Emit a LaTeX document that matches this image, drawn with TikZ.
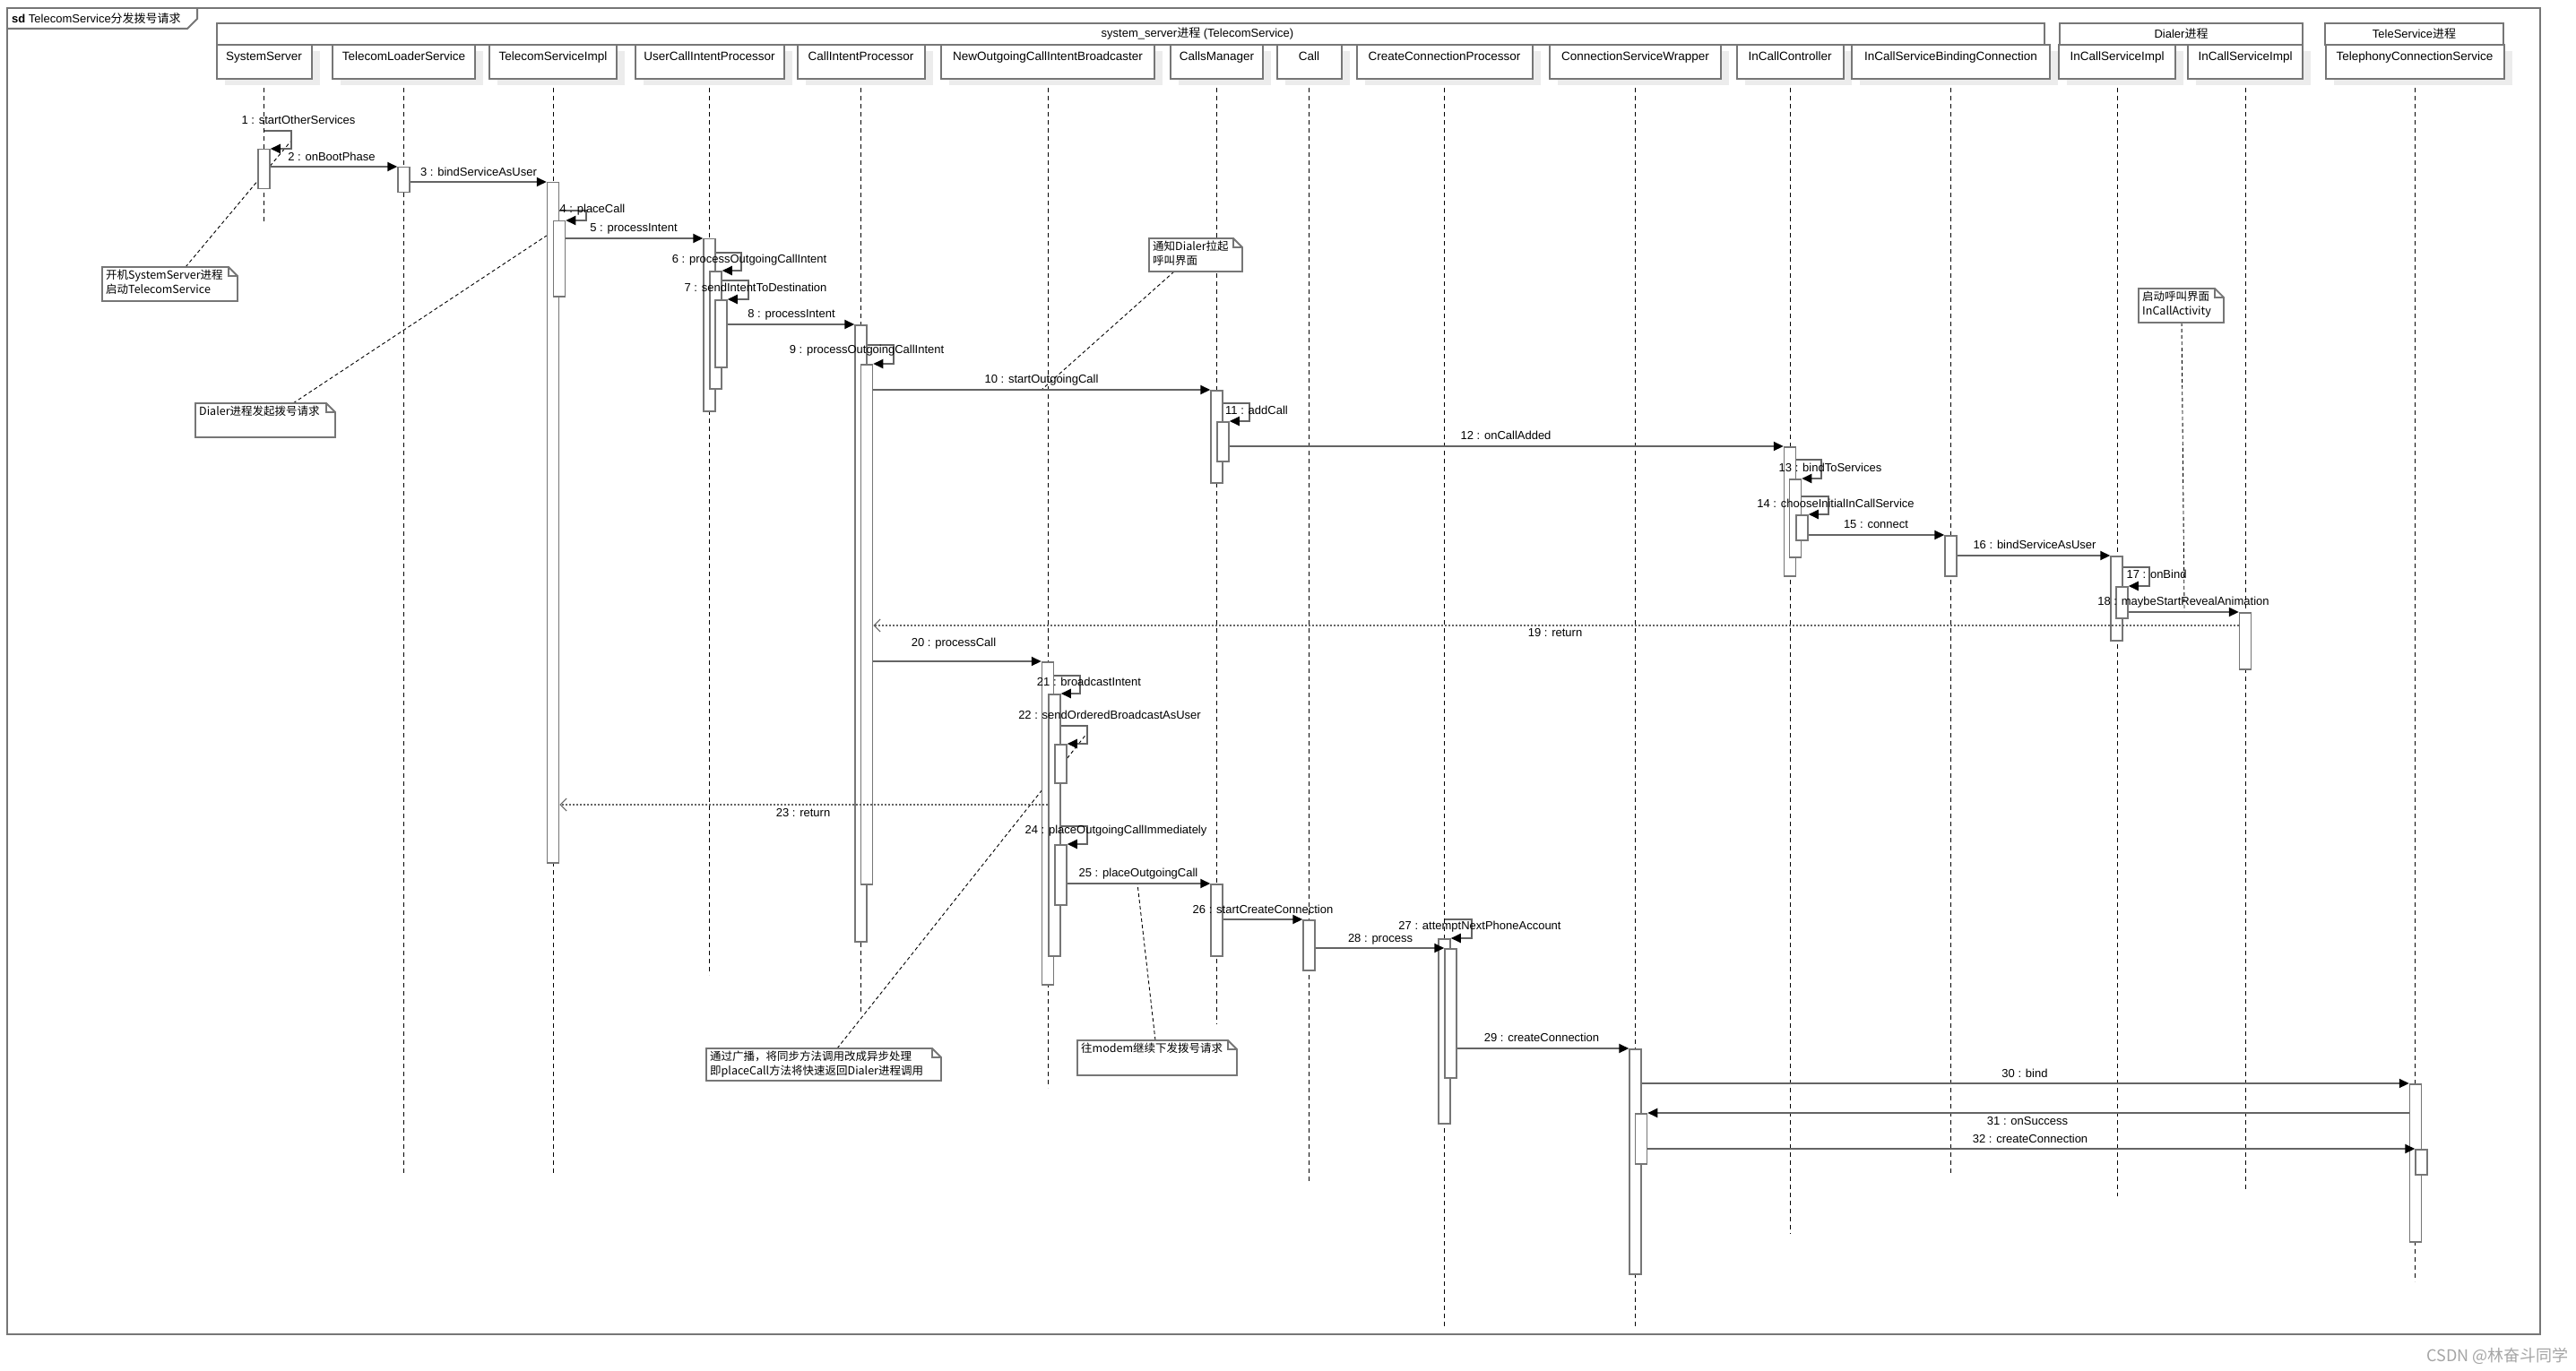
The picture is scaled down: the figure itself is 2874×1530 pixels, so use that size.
\documentclass[tikz,border=0pt]{standalone}
\usepackage{fontspec}
\setmainfont{Liberation Sans}
\newfontfamily\cjk{Noto Sans CJK SC}
\usetikzlibrary{arrows.meta,calc,shadows}
\pgfdeclarelayer{back}
\pgfdeclarelayer{bg}
\pgfsetlayers{back,bg,main}
\definecolor{bgray}{RGB}{118,118,118}
\definecolor{lgray}{RGB}{100,100,100}
\definecolor{shgray}{RGB}{236,236,236}
\definecolor{wmgray}{RGB}{165,165,165}
\newcommand{\umlnote}[6]{%
  \draw[noteline] (#2,#3) -- (#4-10,#3) -- (#4,#3+10) -- (#4,#5) -- (#2,#5) -- cycle;
  \draw[bgray, line width=1.2pt] (#4-10,#3) -- (#4-10,#3+10) -- (#4,#3+10);
  \coordinate (#1-top) at (#2,#3);
  \node[notetxt] (#1) at (#2+4,#3+3) {#6};
}
\begin{document}
\begin{tikzpicture}[x=1pt,y=-1pt,
  hdr/.style={draw=bgray, line width=2pt, fill=white, minimum height=38pt, inner sep=0pt,
    text height=10pt, text depth=13pt,
    font=\fontsize{13.5}{16}\selectfont, general shadow={fill=shgray, shadow xshift=9pt, shadow yshift=-7pt}},
  grp/.style={draw=bgray, line width=2pt, fill=white, minimum height=24pt, inner sep=0pt,
    font=\fontsize{13}{15}\selectfont},
  bar/.style={draw=bgray, line width=1.5pt, fill=white, minimum width=13pt, inner sep=0pt, anchor=north},
  lifeline/.style={draw=black, line width=0.9pt, dash pattern=on 5pt off 4pt},
  msg/.style={draw=lgray, line width=2pt, -{Triangle[length=11pt,width=10pt,color=black]}},
  ret/.style={draw=lgray, line width=1.6pt, dash pattern=on 2pt off 2pt,
    -{Straight Barb[length=7pt,width=14pt,line width=1.2pt]}},
  lbl/.style={font=\fontsize{13}{15}\selectfont, inner sep=0pt, text height=9.5pt, text depth=2.5pt},
  noteline/.style={draw=bgray, line width=1.8pt, fill=white},
  notetxt/.style={anchor=north west, align=left, inner sep=0pt, font=\cjk\fontsize{12.5}{15.5}\selectfont},
  conn/.style={draw=black, line width=0.9pt, dash pattern=on 4pt off 3pt}
]
\begin{pgfonlayer}{back}
\fill[white] (0,0) rectangle (2874,1530);
\end{pgfonlayer}
\useasboundingbox (0,0) rectangle (2874,1530);

% frame and tab
\draw[bgray, line width=2pt] (8,9) rectangle (2834,1489);
\draw[bgray, line width=2pt] (8,32) -- (209,32) -- (220,21) -- (220,9);
\node[anchor=west, inner sep=0pt, font=\fontsize{13}{15}\selectfont] (title) at (13,21)
  {\textbf{sd} TelecomService{\cjk 分发拨号请求}};

% group boxes
\node[grp, minimum width=2039pt] (g1) at (1261.5,38) {};
\node[lbl, font=\fontsize{13}{15}\selectfont] (g1t) at (1336,38) {system\_server{\cjk 进程} (TelecomService)};
\node[grp, minimum width=271pt] (g2) at (2433.5,38) {Dialer{\cjk 进程}};
\node[grp, minimum width=199pt] (g3) at (2693.5,38) {TeleService{\cjk 进程}};

% headers
\node[hdr, minimum width=106pt] (h1) at (294.5,69) {SystemServer};
\node[hdr, minimum width=159pt] (h2) at (450.5,69) {TelecomLoaderService};
\node[hdr, minimum width=142pt] (h3) at (617,69) {TelecomServiceImpl};
\node[hdr, minimum width=166pt] (h4) at (791.5,69) {UserCallIntentProcessor};
\node[hdr, minimum width=142pt] (h5) at (960.5,69) {CallIntentProcessor};
\node[hdr, minimum width=238pt] (h6) at (1169,69) {NewOutgoingCallIntentBroadcaster};
\node[hdr, minimum width=103pt] (h7) at (1357.5,69) {CallsManager};
\node[hdr, minimum width=72pt] (h8) at (1460.5,69) {Call};
\node[hdr, minimum width=196pt] (h9) at (1611.5,69) {CreateConnectionProcessor};
\node[hdr, minimum width=191pt] (h10) at (1824.5,69) {ConnectionServiceWrapper};
\node[hdr, minimum width=119pt] (h11) at (1997,69) {InCallController};
\node[hdr, minimum width=221pt] (h12) at (2176.5,69) {InCallServiceBindingConnection};
\node[hdr, minimum width=130pt] (h13) at (2362,69) {InCallServiceImpl};
\node[hdr, minimum width=128pt] (h14) at (2505,69) {InCallServiceImpl};
\node[hdr, minimum width=199pt] (h15) at (2694,69) {TelephonyConnectionService};

% lifelines
\begin{pgfonlayer}{bg}
\foreach \h/\e in {h1/250, h2/1311, h3/1311, h4/1088, h5/1131, h6/1214, h7/1143, h8/1320,
  h9/1481, h10/1483, h11/1377, h12/1311, h13/1335, h14/1330, h15/1430}
  \draw[lifeline] (\h.south) -- (\h.south |- 0,\e);
\end{pgfonlayer}

% activation bars
\node[bar, minimum height=44pt] (b1) at (294.5,166) {};
\node[bar, minimum height=28pt] (b2) at (450.5,186) {};
\node[bar, minimum height=759pt] (b3) at (617,203) {};
\node[bar, minimum height=84pt] (b3n) at (624,246) {};
\node[bar, minimum height=192pt] (b4) at (791.5,266) {};
\node[bar, minimum height=131pt] (b4n) at (798.5,302) {};
\node[bar, minimum height=75pt] (b4nn) at (804.5,334) {};
\node[bar, minimum height=688pt] (b5) at (960.5,362) {};
\node[bar, minimum height=580pt] (b5n) at (967,406) {};
\node[bar, minimum height=103pt] (b7) at (1357.5,435) {};
\node[bar, minimum height=44pt] (b7n) at (1364.5,470) {};
\node[bar, minimum height=144pt] (b11) at (1997,498) {};
\node[bar, minimum height=87pt] (b11n) at (2003,534) {};
\node[bar, minimum height=28pt] (b11nn) at (2010.5,574) {};
\node[bar, minimum height=45pt] (b12) at (2176.5,597) {};
\node[bar, minimum height=94pt] (b13) at (2361.5,620) {};
\node[bar, minimum height=35pt] (b13n) at (2367.5,654) {};
\node[bar, minimum height=63pt] (b14) at (2505,683) {};
\node[bar, minimum height=360pt] (b6) at (1169,738) {};
\node[bar, minimum height=292pt] (b6n) at (1176.5,774) {};
\node[bar, minimum height=43pt] (b6a) at (1183.5,830) {};
\node[bar, minimum height=67pt] (b6b) at (1183.5,942) {};
\node[bar, minimum height=80pt] (b7b) at (1357.5,986) {};
\node[bar, minimum height=56pt] (b8) at (1460.5,1026) {};
\node[bar, minimum height=206pt] (b9) at (1611.5,1047) {};
\node[bar, minimum height=144pt] (b9n) at (1618.5,1058) {};
\node[bar, minimum height=251pt] (b10) at (1824.5,1170) {};
\node[bar, minimum height=56pt] (b10n) at (1831,1242) {};
\node[bar, minimum height=176pt] (b15) at (2695,1209) {};
\node[bar, minimum height=28pt] (b15n) at (2701.5,1282) {};

% messages
\draw[msg] (b1 |- 0,146) -- (325,146) -- (325,166) -- (b1.east |- 0,166);
\draw[msg] (b1.east |- 0,186) -- (b2.west |- 0,186);
\draw[msg] (b2.east |- 0,203) -- (b3.west |- 0,203);
\draw[msg] (b3.east |- 0,235) -- (654,235) -- (654,246) -- (b3n.east |- 0,246);
\draw[msg] (b3n.east |- 0,266) -- (b4.west |- 0,266);
\draw[msg] (b4.east |- 0,282) -- (827,282) -- (827,302) -- (b4n.east |- 0,302);
\draw[msg] (b4n.east |- 0,313) -- (835,313) -- (835,334) -- (b4nn.east |- 0,334);
\draw[msg] (b4nn.east |- 0,362) -- (b5.west |- 0,362);
\draw[msg] (b5.east |- 0,385) -- (997,385) -- (997,406) -- (b5n.east |- 0,406);
\draw[msg] (b5n.east |- 0,435) -- (b7.west |- 0,435);
\draw[msg] (b7.east |- 0,450) -- (1394,450) -- (1394,470) -- (b7n.east |- 0,470);
\draw[msg] (b7n.east |- 0,498) -- (b11.west |- 0,498);
\draw[msg] (b11.east |- 0,513) -- (2032,513) -- (2032,534) -- (b11n.east |- 0,534);
\draw[msg] (b11n.east |- 0,554) -- (2040,554) -- (2040,574) -- (b11nn.east |- 0,574);
\draw[msg] (b11nn.east |- 0,597) -- (b12.west |- 0,597);
\draw[msg] (b12.east |- 0,620) -- (b13.west |- 0,620);
\draw[msg] (b13.east |- 0,633) -- (2398,633) -- (2398,654) -- (b13n.east |- 0,654);
\draw[msg] (b13n.east |- 0,683) -- (b14.west |- 0,683);
\draw[ret] (b14.west |- 0,698) -- (b5n.east |- 0,698);
\draw[msg] (b5n.east |- 0,738) -- (b6.west |- 0,738);
\draw[msg] (b6.east |- 0,754) -- (1205,754) -- (1205,774) -- (b6n.east |- 0,774);
\draw[msg] (b6n.east |- 0,810) -- (1213,810) -- (1213,830) -- (b6a.east |- 0,830);
\draw[ret] (b6n.west |- 0,898) -- (b3.east |- 0,898);
\draw[msg] (b6n.east |- 0,922) -- (1213,922) -- (1213,942) -- (b6b.east |- 0,942);
\draw[msg] (b6b.east |- 0,986) -- (b7b.west |- 0,986);
\draw[msg] (b7b.east |- 0,1026) -- (b8.west |- 0,1026);
\draw[msg] (h9 |- 0,1026) -- (1642,1026) -- (1642,1047) -- (b9.east |- 0,1047);
\draw[msg] (b8.east |- 0,1058) -- (b9n.west |- 0,1058);
\draw[msg] (b9n.east |- 0,1170) -- (b10.west |- 0,1170);
\draw[msg] (b10.east |- 0,1209) -- (b15.west |- 0,1209);
\draw[msg] (b15.west |- 0,1242) -- (b10n.east |- 0,1242);
\draw[msg] (b10n.east |- 0,1282) -- (b15n.west |- 0,1282);

% message labels
\node[lbl] (l1) at (333,135) {1 : startOtherServices};
\node[lbl] (l2) at (370,176) {2 : onBootPhase};
\node[lbl] (l3) at (534,193) {3 : bindServiceAsUser};
\node[lbl] (l4) at (661,234) {4 : placeCall};
\node[lbl] (l5) at (707,255) {5 : processIntent};
\node[lbl] (l6) at (836,290) {6 : processOutgoingCallIntent};
\node[lbl] (l7) at (843,322) {7 : sendIntentToDestination};
\node[lbl] (l8) at (883,351) {8 : processIntent};
\node[lbl] (l9) at (967,391) {9 : processOutgoingCallIntent};
\node[lbl] (l10) at (1162,424) {10 : startOutgoingCall};
\node[lbl] (l11) at (1402,459) {11 : addCall};
\node[lbl] (l12) at (1680,487) {12 : onCallAdded};
\node[lbl] (l13) at (2042,523) {13 : bindToServices};
\node[lbl] (l14) at (2048,563) {14 : chooseInitialInCallService};
\node[lbl] (l15) at (2093,586) {15 : connect};
\node[lbl] (l16) at (2270,609) {16 : bindServiceAsUser};
\node[lbl] (l17) at (2406,642) {17 : onBind};
\node[lbl] (l18) at (2436,672) {18 : maybeStartRevealAnimation};
\node[lbl] (l19) at (1735,707) {19 : return};
\node[lbl] (l20) at (1064,718) {20 : processCall};
\node[lbl] (l21) at (1215,762) {21 : broadcastIntent};
\node[lbl] (l22) at (1238,799) {22 : sendOrderedBroadcastAsUser};
\node[lbl] (l23) at (896,908) {23 : return};
\node[lbl] (l24) at (1245,927) {24 : placeOutgoingCallImmediately};
\node[lbl] (l25) at (1270,975) {25 : placeOutgoingCall};
\node[lbl] (l26) at (1409,1016) {26 : startCreateConnection};
\node[lbl] (l27) at (1651,1034) {27 : attemptNextPhoneAccount};
\node[lbl] (l28) at (1540,1048) {28 : process};
\node[lbl] (l29) at (1720,1159) {29 : createConnection};
\node[lbl] (l30) at (2259,1199) {30 : bind};
\node[lbl] (l31) at (2262,1252) {31 : onSuccess};
\node[lbl] (l32) at (2265,1272) {32 : createConnection};

% notes
\umlnote{n1}{114}{298}{265}{336}{开机SystemServer进程\\启动TelecomService}
\umlnote{n2}{218}{450}{374}{488}{Dialer进程发起拨号请求}
\umlnote{n3}{1282}{266}{1386}{303}{通知Dialer拉起\\呼叫界面}
\umlnote{n4}{2386}{322}{2481}{360}{启动呼叫界面\\InCallActivity}
\umlnote{n5}{1202}{1161}{1380}{1200}{往modem继续下发拨号请求}
\umlnote{n6}{788}{1170}{1050}{1206}{通过广播，将同步方法调用改成异步处理\\即placeCall方法将快速返回Dialer进程调用}

% note connectors
\coordinate (c1) at (325,157);
\coordinate (c3) at (1162,435);
\coordinate (c4) at (2437,683);
\coordinate (c5) at (1269,986);
\coordinate (c6) at (1213,818);
\begin{pgfonlayer}{bg}
\draw[conn] ($(n1-top)+(93,0)$) -- (c1);
\draw[conn] ($(n2-top)+(109,0)$) -- (b3.west |- 0,263);
\draw[conn] ($(n3-top)+(28,37)$) -- (c3);
\draw[conn] ($(n4-top)+(48,38)$) -- (c4);
\draw[conn] ($(n5-top)+(87,0)$) -- (c5);
\draw[conn] ($(n6-top)+(146,0)$) -- (c6);
\end{pgfonlayer}

% watermark
\node[anchor=east, inner sep=0pt, text=wmgray, font=\cjk\fontsize{18}{20}\selectfont] (wm) at (2866,1513) {CSDN @林奋斗同学};
\end{tikzpicture}
\end{document}
